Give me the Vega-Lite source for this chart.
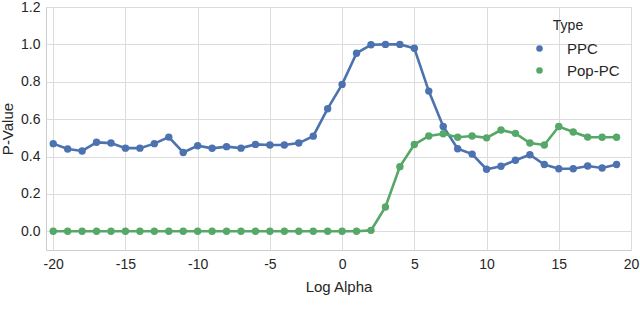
{
  "$schema": "https://vega.github.io/schema/vega-lite/v6.json",
  "width": 585,
  "height": 243,
  "autosize": {"type": "none"},
  "padding": {"left": 46, "top": 7, "right": 9, "bottom": 59},
  "background": "white",
  "config": {
    "font": "Liberation Sans",
    "view": {"stroke": "#cccccc", "strokeWidth": 1},
    "axis": {
      "domain": false,
      "ticks": false,
      "grid": true,
      "gridColor": "#dcdcdc",
      "gridWidth": 1,
      "labelFont": "Liberation Sans",
      "labelFontSize": 14,
      "labelColor": "#262626",
      "titleFont": "Liberation Sans",
      "titleFontSize": 15,
      "titleFontWeight": "normal",
      "titleColor": "#262626"
    },
    "legend": {
      "labelFont": "Liberation Sans",
      "labelFontSize": 15,
      "labelColor": "#262626",
      "titleFont": "Liberation Sans",
      "titleFontSize": 14,
      "titleFontWeight": "normal",
      "titleColor": "#262626"
    }
  },
  "data": {
    "values": [
      {"alpha": -20, "type": "PPC", "p": 0.469},
      {"alpha": -19, "type": "PPC", "p": 0.44},
      {"alpha": -18, "type": "PPC", "p": 0.43},
      {"alpha": -17, "type": "PPC", "p": 0.476},
      {"alpha": -16, "type": "PPC", "p": 0.472},
      {"alpha": -15, "type": "PPC", "p": 0.445},
      {"alpha": -14, "type": "PPC", "p": 0.445},
      {"alpha": -13, "type": "PPC", "p": 0.469},
      {"alpha": -12, "type": "PPC", "p": 0.504},
      {"alpha": -11, "type": "PPC", "p": 0.422},
      {"alpha": -10, "type": "PPC", "p": 0.458},
      {"alpha": -9, "type": "PPC", "p": 0.444},
      {"alpha": -8, "type": "PPC", "p": 0.453},
      {"alpha": -7, "type": "PPC", "p": 0.445},
      {"alpha": -6, "type": "PPC", "p": 0.465},
      {"alpha": -5, "type": "PPC", "p": 0.462},
      {"alpha": -4, "type": "PPC", "p": 0.462},
      {"alpha": -3, "type": "PPC", "p": 0.472},
      {"alpha": -2, "type": "PPC", "p": 0.509},
      {"alpha": -1, "type": "PPC", "p": 0.656},
      {"alpha": 0, "type": "PPC", "p": 0.786},
      {"alpha": 1, "type": "PPC", "p": 0.953},
      {"alpha": 2, "type": "PPC", "p": 0.998},
      {"alpha": 3, "type": "PPC", "p": 1.0},
      {"alpha": 4, "type": "PPC", "p": 1.0},
      {"alpha": 5, "type": "PPC", "p": 0.979},
      {"alpha": 6, "type": "PPC", "p": 0.75},
      {"alpha": 7, "type": "PPC", "p": 0.561},
      {"alpha": 8, "type": "PPC", "p": 0.442},
      {"alpha": 9, "type": "PPC", "p": 0.413},
      {"alpha": 10, "type": "PPC", "p": 0.332},
      {"alpha": 11, "type": "PPC", "p": 0.348},
      {"alpha": 12, "type": "PPC", "p": 0.38},
      {"alpha": 13, "type": "PPC", "p": 0.41},
      {"alpha": 14, "type": "PPC", "p": 0.357},
      {"alpha": 15, "type": "PPC", "p": 0.335},
      {"alpha": 16, "type": "PPC", "p": 0.335},
      {"alpha": 17, "type": "PPC", "p": 0.349},
      {"alpha": 18, "type": "PPC", "p": 0.339},
      {"alpha": 19, "type": "PPC", "p": 0.357},
      {"alpha": -20, "type": "Pop-PC", "p": 0.0},
      {"alpha": -19, "type": "Pop-PC", "p": 0.0},
      {"alpha": -18, "type": "Pop-PC", "p": 0.0},
      {"alpha": -17, "type": "Pop-PC", "p": 0.0},
      {"alpha": -16, "type": "Pop-PC", "p": 0.0},
      {"alpha": -15, "type": "Pop-PC", "p": 0.0},
      {"alpha": -14, "type": "Pop-PC", "p": 0.0},
      {"alpha": -13, "type": "Pop-PC", "p": 0.0},
      {"alpha": -12, "type": "Pop-PC", "p": 0.0},
      {"alpha": -11, "type": "Pop-PC", "p": 0.0},
      {"alpha": -10, "type": "Pop-PC", "p": 0.0},
      {"alpha": -9, "type": "Pop-PC", "p": 0.0},
      {"alpha": -8, "type": "Pop-PC", "p": 0.0},
      {"alpha": -7, "type": "Pop-PC", "p": 0.0},
      {"alpha": -6, "type": "Pop-PC", "p": 0.0},
      {"alpha": -5, "type": "Pop-PC", "p": 0.0},
      {"alpha": -4, "type": "Pop-PC", "p": 0.0},
      {"alpha": -3, "type": "Pop-PC", "p": 0.0},
      {"alpha": -2, "type": "Pop-PC", "p": 0.0},
      {"alpha": -1, "type": "Pop-PC", "p": 0.0},
      {"alpha": 0, "type": "Pop-PC", "p": 0.0},
      {"alpha": 1, "type": "Pop-PC", "p": 0.0},
      {"alpha": 2, "type": "Pop-PC", "p": 0.005},
      {"alpha": 3, "type": "Pop-PC", "p": 0.13},
      {"alpha": 4, "type": "Pop-PC", "p": 0.346},
      {"alpha": 5, "type": "Pop-PC", "p": 0.464},
      {"alpha": 6, "type": "Pop-PC", "p": 0.51},
      {"alpha": 7, "type": "Pop-PC", "p": 0.522},
      {"alpha": 8, "type": "Pop-PC", "p": 0.503},
      {"alpha": 9, "type": "Pop-PC", "p": 0.51},
      {"alpha": 10, "type": "Pop-PC", "p": 0.5},
      {"alpha": 11, "type": "Pop-PC", "p": 0.542},
      {"alpha": 12, "type": "Pop-PC", "p": 0.524},
      {"alpha": 13, "type": "Pop-PC", "p": 0.472},
      {"alpha": 14, "type": "Pop-PC", "p": 0.462},
      {"alpha": 15, "type": "Pop-PC", "p": 0.561},
      {"alpha": 16, "type": "Pop-PC", "p": 0.531},
      {"alpha": 17, "type": "Pop-PC", "p": 0.504},
      {"alpha": 18, "type": "Pop-PC", "p": 0.503},
      {"alpha": 19, "type": "Pop-PC", "p": 0.503}
    ]
  },
  "encoding": {
    "x": {
      "field": "alpha", "type": "quantitative", "title": "Log Alpha",
      "scale": {"domain": [-20.5, 20], "nice": false, "zero": false},
      "axis": {"values": [-20, -15, -10, -5, 0, 5, 10, 15, 20], "labelExpr": "replace(datum.label, '\u2212', '-')", "labelPadding": 7, "titlePadding": 8, "labelFlush": false}
    },
    "y": {
      "field": "p", "type": "quantitative", "title": "P-Value",
      "scale": {"domain": [-0.1, 1.2], "nice": false, "zero": false},
      "axis": {"values": [0, 0.2, 0.4, 0.6, 0.8, 1.0, 1.2], "format": ".1f", "labelPadding": 6, "titlePadding": 5, "labelFlush": false}
    },
    "color": {
      "field": "type", "type": "nominal", "title": "Type",
      "scale": {"domain": ["PPC", "Pop-PC"], "range": ["#4C72B0", "#55A868"]},
      "legend": {
        "orient": "none",
        "legendX": 470,
        "legendY": 12,
        "padding": 0,
        "symbolType": "circle",
        "symbolSize": 42,
        "symbolStrokeWidth": 0,
        "symbolOffset": 16,
        "labelOffset": 20,
        "rowPadding": 6,
        "titlePadding": 8,
        "titleAnchor": "middle"
      }
    }
  },
  "layer": [
    {
      "mark": {"type": "line", "strokeWidth": 2.6},
      "encoding": {}
    },
    {
      "mark": {"type": "point", "filled": true, "shape": "circle", "size": 55, "opacity": 1},
      "encoding": {}
    }
  ]
}
